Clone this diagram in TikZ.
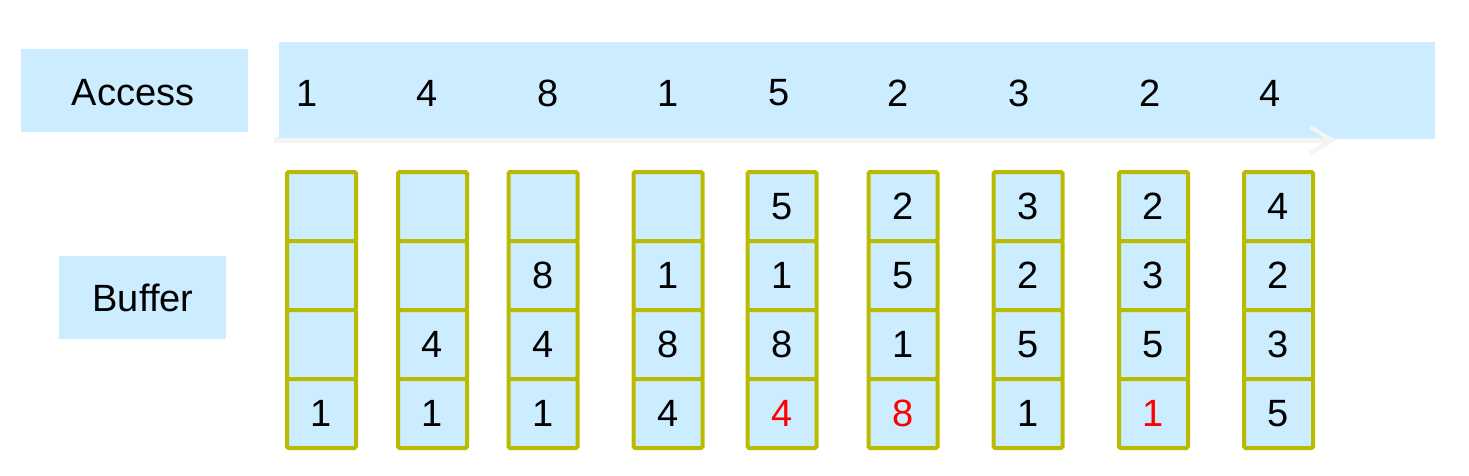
\documentclass[tikz,border=0pt]{standalone}
\usepackage{fontspec}
\setmainfont{Liberation Sans}
\usetikzlibrary{arrows.meta}
\definecolor{lblue}{HTML}{CCECFF}
\definecolor{olive}{HTML}{BABA00}
\definecolor{faint}{HTML}{F4F4F4}
\tikzset{
  lbl/.style={fill=lblue, inner sep=0pt, font=\fontsize{38}{40}\selectfont},
  num/.style={inner sep=0pt, font=\fontsize{38}{40}\selectfont},
  cell/.style={draw=olive, fill=lblue, line width=4pt, rounded corners=1.5pt,
    minimum width=69pt, minimum height=69pt, inner sep=0pt,
    font=\fontsize{38}{40}\selectfont},
  hot/.style={text=red}
}
\begin{document}
\begin{tikzpicture}[x=1pt,y=-1pt]
\useasboundingbox (0,0) rectangle (1469,475);
% labels
\node[lbl, minimum width=227pt, minimum height=83pt] (access) at (134.5,90.5) {};
\node[num] (accesst) at (133,93) {Access};
\node[lbl, minimum width=167pt, minimum height=83pt] (buffer) at (142.5,297.5) {};
\node[num] (buffert) at (143,298) {Buffer};
% access bar
\fill[faint] (274,137) rectangle (1300,143);
\node[lbl, minimum width=1156pt, minimum height=97pt] (bar) at (857,90.5) {};
\coordinate (arrs) at (274,140);
\coordinate (arre) at (1336,140);
\draw[faint, line width=5pt, -{Straight Barb[length=22pt,width=26pt,line width=4pt]}] (arrs) -- (arre);
% access sequence
\foreach \x/\v [count=\i] in {307/1,427/4,548/8,668/1,779/5,898/2,1019/3,1150/2,1270/4}
  \node[num] (a\i) at (\x,93) {\v};
% buffer columns
\foreach \x/\ra/\rb/\rc/\rd [count=\i] in {
  321.5/{}/{}/{}/1,
  432.5/{}/{}/4/1,
  543/{}/8/4/1,
  668/{}/1/8/4,
  782/5/1/8/{\textcolor{red}{4}},
  903/2/5/1/{\textcolor{red}{8}},
  1028/3/2/5/1,
  1153.5/2/3/5/{\textcolor{red}{1}},
  1278.5/4/2/3/5}{
  \node[cell] (c\i r1) at (\x,206.5) {\ra};
  \node[cell] (c\i r2) at (\x,275.5) {\rb};
  \node[cell] (c\i r3) at (\x,344.5) {\rc};
  \node[cell] (c\i r4) at (\x,413.5) {\rd};
}
\end{tikzpicture}
\end{document}
